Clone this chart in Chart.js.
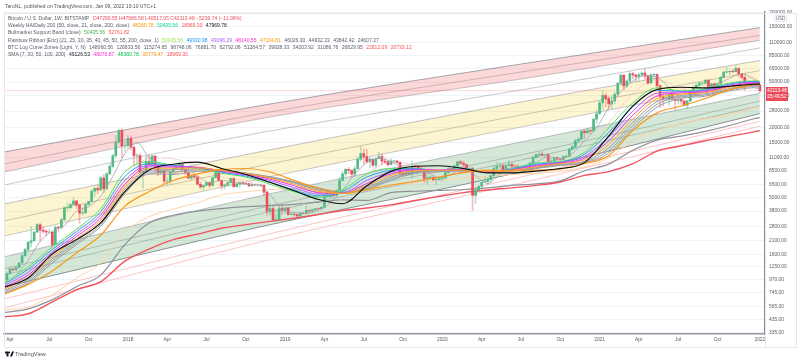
<!DOCTYPE html>
<html>
<head>
<meta charset="utf-8">
<script src="https://cdn.jsdelivr.net/npm/chart.js@4/dist/chart.umd.min.js"></script>
<style>
  html, body { margin: 0; padding: 0; background: #fff; }
  #wrap { position: relative; width: 800px; height: 362px; overflow: hidden; font-family: "Liberation Sans", sans-serif; filter: blur(0.3px); }
  canvas { position: absolute; left: 0; top: 0; }
  .t { position: absolute; white-space: pre; font-size: 5.05px; line-height: 7px; color: #5d606b; }
  .frame { position: absolute; border: 1px solid #e6e8ee; box-sizing: border-box; }
  #tag { position: absolute; left: 766px; top: 87px; width: 22px; height: 14px; background: #ec4b5c; color: #fff; font-size: 4.9px; line-height: 6.2px; text-align: center; padding-top: 1px; box-sizing: border-box; }
  #usd { position: absolute; left: 774px; top: 15px; width: 13px; height: 7px; border: 1px solid #e0e3eb; border-radius: 2px; font-size: 4.6px; line-height: 6px; text-align: center; color: #6a6d78; background: #fff; box-sizing: border-box; }
  #logo { position: absolute; left: 5px; top: 351px; }
</style>
</head>
<body>
<div id="wrap">
  <canvas id="chart" width="800" height="362"></canvas>
  <div class="frame" style="left:4px;top:13px;width:762px;height:335px"></div>
  <div class="frame" style="left:765px;top:13px;width:32px;height:335px"></div>
  <div class="t" style="left:5px;top:3px;color:#50535e">TaroNL, published on TradingView.com, Jan 09, 2022 19:10 UTC+1</div>
  <div id="legend"></div>
  <div id="usd">USD</div>
  <div id="tag">42113.48<br>05:49:52</div>
  <svg id="logo" width="9" height="6" viewBox="0 0 36 20"><path fill="#131722" d="M14 20H6V8H0V0h14zM28 20h-8L28 0h8zM17 7a3.5 3.5 0 1 0 0-7 3.5 3.5 0 0 0 0 7z"/></svg>
  <div class="t" style="left:15px;top:351px;font-size:5.6px;color:#50535e">TradingView</div>
</div>
<script>
// weekly candles, first one is two weeks before the Apr 2017 tick
const opens = [1020,960,1090,1195,1175,1230,1350,1560,1770,2040,
  2100,2500,2900,2600,2540,2500,2500,1950,2750,2730,
  3200,4050,4080,4330,4650,4300,3650,3670,4330,4600,
  5650,5980,5800,7370,5950,8000,9300,11500,15000,19000,
  14000,14000,16200,13600,11500,11500,8200,8500,10300,9600,
  11400,9500,8200,8500,6900,6900,8350,8900,9300,9650,
  8700,8200,7350,7700,7500,6500,6150,6370,6750,6350,
  7400,8200,7000,6300,6400,6700,7280,6200,6500,6700,
  6600,6580,6300,6420,6400,6400,6350,5550,3800,4000,
  3200,3200,4000,3850,4050,3550,3580,3550,3450,3650,
  3620,3850,3810,3900,3990,3980,4100,5050,5060,5250,
  5180,5750,7000,8000,8750,8550,7950,8850,10700,12000,
  11300,10200,10750,9500,10800,11300,10300,10150,9600,10350,
  10350,10050,8100,7850,8300,7960,9250,9200,8800,8500,
  7300,7400,7500,7100,7150,7300,7350,8180,8900,8600,
  9350,10150,9900,9650,8530,8900,5200,5800,6250,6780,
  6860,7100,7700,8900,9300,9380,8700,9450,9650,9320,
  9300,9000,9070,9250,9170,9930,11050,11700,11850,11650,
  11700,10250,10330,11050,10750,10660,11300,11360,13100,13750,
  15500,15950,18700,18200,19000,18800,23800,26500,33000,38200,
  36000,32300,34300,39200,48800,57400,46200,51000,59000,57600,
  55900,57800,59800,56200,49000,57800,58200,46500,37500,35700,
  35800,39000,35600,34600,35300,34200,31500,34200,42000,44600,
  47000,48800,48900,51800,45200,48300,43200,48200,54900,60900,
  61300,61900,61500,65500,58700,54800,49400,49300,46800,50800,47290.55];
const closes = [960,1090,1195,1175,1230,1350,1560,1770,2040,2100,
  2500,2900,2600,2540,2500,2500,1950,2750,2730,3200,
  4050,4080,4330,4650,4300,3650,3670,4330,4600,5650,
  5980,5800,7370,5950,8000,9300,11500,15000,19000,14000,
  14000,16200,13600,11500,11500,8200,8500,10300,9600,11400,
  9500,8200,8500,6900,6900,8350,8900,9300,9650,8700,
  8200,7350,7700,7500,6500,6150,6370,6750,6350,7400,
  8200,7000,6300,6400,6700,7280,6200,6500,6700,6600,
  6580,6300,6420,6400,6400,6350,5550,3800,4000,3200,
  3200,4000,3850,4050,3550,3580,3550,3450,3650,3620,
  3850,3810,3900,3990,3980,4100,5050,5060,5250,5180,
  5750,7000,8000,8750,8550,7950,8850,10700,12000,11300,
  10200,10750,9500,10800,11300,10300,10150,9600,10350,10350,
  10050,8100,7850,8300,7960,9250,9200,8800,8500,7300,
  7400,7500,7100,7150,7300,7350,8180,8900,8600,9350,
  10150,9900,9650,8530,8900,5200,5800,6250,6780,6860,
  7100,7700,8900,9300,9380,8700,9450,9650,9320,9300,
  9000,9070,9250,9170,9930,11050,11700,11850,11650,11700,
  10250,10330,11050,10750,10660,11300,11360,13100,13750,15500,
  15950,18700,18200,19000,18800,23800,26500,33000,38200,36000,
  32300,34300,39200,48800,57400,46200,51000,59000,57600,55900,
  57800,59800,56200,49000,57800,58200,46500,37500,35700,35800,
  39000,35600,34600,35300,34200,31500,34200,42000,44600,47000,
  48800,48900,51800,45200,48300,43200,48200,54900,60900,61300,
  61900,61500,65500,58700,54800,49400,49300,46800,50800,47290,42113.48];
const highs = [1060,1130,1215,1215,1250,1355,1620,1810,2080,2790,
  2540,2980,2970,2780,2620,2650,2500,2850,2830,3300,
  4200,4480,4450,4980,4700,4380,4120,4370,4640,5850,
  6150,6300,7600,7880,8200,9800,11800,17200,19650,19700,
  15500,17200,17100,14000,12000,12000,9000,11300,11700,11700,
  11600,9900,9150,8700,7500,8450,9050,9750,10000,9650,
  8870,8520,7780,7820,7630,6800,6300,6770,6850,7550,
  8480,8300,7150,6560,6850,7350,7410,6580,6830,6800,
  6680,6650,6780,6600,6550,6540,6450,5620,4420,4200,
  3590,4240,4300,4100,4080,3720,3650,3590,3700,3720,
  4190,3930,3950,4000,4060,4200,5340,5470,5350,5620,
  5850,7500,8330,8950,9090,8760,9350,11200,13800,13150,
  13050,11000,10650,11000,12300,12000,10950,10600,10900,10480,
  10350,10180,8480,8660,8450,10350,9550,9450,9100,8400,
  7850,7750,7430,7520,7430,7600,8450,9190,8800,9590,
  10200,10500,10300,9650,9180,9150,6900,6950,6550,7470,
  7450,7740,9460,10050,9950,9840,9600,10430,9990,9580,
  9650,9320,9470,9430,9990,11420,11900,12480,12470,11770,
  12040,10750,11170,11180,10930,11450,11740,13350,14100,15960,
  16480,18790,19480,19900,19400,24300,28400,34700,41950,40000,
  37900,38500,40900,49700,58300,57600,52600,61800,60600,58400,
  60000,61200,64800,57500,58500,59400,58500,46600,40900,39400,
  39400,41300,35600,36700,35100,34600,34700,42600,46400,48100,
  50500,49900,52900,52900,48800,48200,49300,56200,62900,67000,
  63700,64300,69000,66400,59400,59000,50900,50000,51900,52100,47586.58];
const lows = [890,940,1080,1160,1170,1225,1345,1540,1680,1850,
  2100,2480,2080,2450,2340,2490,1850,1950,2500,2650,
  3150,3800,3950,4320,4000,2980,3520,3620,4260,4550,
  5100,5380,5700,5500,5850,7900,9000,11000,14800,11000,
  12500,13200,12800,9300,9900,7900,6000,8300,9300,9350,
  8300,7700,8100,6530,6430,6650,7820,8670,8820,8330,
  7900,7250,7070,7350,6420,5980,5780,6240,6060,6250,
  7400,6890,5880,5880,6300,6670,6120,6140,6100,6400,
  6450,6170,6250,6330,6230,6300,5180,3500,3530,3150,
  3130,3230,3560,3650,3500,3510,3430,3320,3370,3570,
  3600,3680,3730,3800,3900,3970,4090,4960,5010,5060,
  5130,5620,6950,7570,8000,7450,7550,8870,10300,9700,
  9950,9050,9200,9100,10800,9500,9900,9330,9550,9900,
  9900,7700,7700,7800,7830,7350,8900,8700,8400,6800,
  6540,7350,7000,6450,7050,6870,7320,8150,8250,8580,
  9140,9680,9300,8400,8430,3850,4430,5670,5860,6680,
  6460,6760,7610,8650,8100,8650,8630,9310,9060,8950,
  8830,8890,9040,9000,9140,9880,10950,11100,11370,11150,
  9880,9870,10200,10150,10370,10530,11180,11290,12900,13220,
  14850,15800,16200,17600,17650,18950,21900,26500,29000,30400,
  28900,29200,32300,37900,47100,43000,44900,49300,53200,50300,
  50500,55500,53000,47500,48800,53000,43500,30000,31100,34800,
  31000,34900,28800,32700,32100,31000,29300,33900,37400,43700,
  43900,46400,46700,42800,43400,39600,40800,47000,53700,59500,
  58000,60000,61200,55600,53300,42300,47300,45600,46400,45700,40517.05];

// indicator lines are read every 8 weeks
const lineWeeks = [-2,6,14,22,30,38,46,54,62,70,78,86,94,102,110,118,126,134,142,150,158,166,174,182,190,198,206,214,222,230,238,246,248];
const ema21 = [906,1250,1860,2650,4000,8300,10200,9500,9000,8100,7500,6500,5600,5000,5800,8000,8900,8900,8500,8900,8200,8900,9900,10200,12300,20000,33000,44500,42000,43500,49000,51000,50435];
const ema25 = [880,1190,1770,2520,3750,7600,9800,9450,9050,8250,7650,6750,5800,5150,5600,7500,8600,8850,8550,8800,8250,8800,9700,10100,11800,18300,30500,42500,41500,42800,48000,50400,49930];
const ema30 = [850,1120,1680,2400,3520,7000,9500,9300,9100,8400,7800,7000,6050,5350,5450,7000,8300,8750,8600,8700,8300,8700,9500,10000,11300,16700,28000,40000,41000,42000,47000,49600,49096];
const ema35 = [820,1060,1600,2290,3320,6500,9200,9150,9100,8500,7950,7200,6300,5500,5400,6600,8000,8650,8600,8650,8300,8650,9350,9900,10900,15400,25800,37800,40200,41200,46000,48700,48140];
const ema40 = [800,1010,1530,2190,3170,6150,8900,8950,9000,8550,8050,7350,6500,5650,5400,6300,7750,8500,8600,8600,8300,8600,9200,9800,10600,14300,24000,35700,39300,40400,45000,47700,47104];
const ema45 = [780,970,1470,2100,3040,5900,8600,8700,8850,8550,8100,7450,6650,5800,5450,6100,7500,8350,8550,8550,8300,8550,9100,9650,10300,13400,22400,33800,38300,39500,43900,46700,46026];
const ema50 = [760,930,1410,2020,2910,5650,8300,8300,8650,8500,8100,7500,6750,5950,5500,5950,7250,8200,8450,8500,8300,8500,9000,9550,10100,12700,21000,32000,37200,38600,42900,45650,44932];
const ema55 = [740,900,1350,1950,2800,5400,8000,7900,8400,8400,8100,7550,6850,6050,5550,5850,7050,8050,8350,8450,8250,8450,8900,9450,9900,12100,19800,30300,36000,37700,41800,44600,43842];
const ema200 = [500,540,650,840,1060,1950,3000,3500,3800,4000,4150,4250,4350,4550,4750,4700,5500,5650,5750,5850,6050,6350,6550,6950,8500,9700,12800,15700,17000,18700,21000,24000,24607];
const haClose = [830,1000,1620,2150,3000,5600,8650,9700,10100,8900,7900,6750,5700,4800,4400,6300,8400,9300,9400,8900,8150,8150,8450,8900,10000,17000,31000,43000,45000,44500,46000,47800,47969];
const sma30 = [900,1050,1700,2600,3500,6300,11000,10800,9300,7500,7000,6700,5000,3900,4900,7900,10200,9500,8600,8600,8300,8300,9600,10800,12200,22000,40000,52000,44000,40000,47500,55000,48076];
const sma50 = [721,880,1150,1650,2350,4200,5600,7000,8000,8700,8900,8300,7000,6000,5400,5800,6400,6900,7500,8200,8600,8500,8600,8800,9800,11500,19000,27000,31000,36000,43000,47500,48380];
const sma100 = [530,560,710,1000,1350,2500,3400,3950,4500,5250,5600,5850,5900,5800,5850,6000,6400,6700,7000,7400,7600,7900,8100,8400,9200,11000,15500,19000,21800,24000,26000,29800,30779];
const sma200 = [460,490,620,790,930,1400,1780,2150,2400,2700,2900,3100,3300,3550,3850,4050,4300,4700,5100,5500,5800,6050,6350,6800,7750,8350,9800,12600,14000,15500,16900,18500,18969];

// the 7 week average moves faster, so it gets more points
const sma7Weeks = [2,6,10,14,18,22,26,30,34,38,40,42,46,50,54,58,62,66,70,74,78,82,86,90,94,98,102,106,110,114,118,122,126,130,134,138,142,146,150,154,158,162,166,170,174,178,182,186,190,194,198,202,206,210,214,218,222,226,230,234,238,242,246,248];
const sma7 = [1060,1420,2080,2550,2850,3800,4140,5120,7600,12000,13800,15000,11000,9700,8000,8800,7700,6700,7000,6800,6500,6420,5300,3900,3700,3640,3850,4500,5800,7900,10000,10900,10200,9100,8300,8200,7400,7900,9100,7700,6600,8000,9100,9250,10100,11200,10800,12000,15500,20000,30000,41000,51000,57000,55000,45000,37000,37500,44000,47500,54000,59000,53000,49126];

// log curve zones, read at four places along the axis
const zoneWeeks = [-2,84,169,248];
const zoneA = [12365,31595,71600,148060.56];
const zoneB = [9730,26930,61050,126833.56];
const zoneC = [8295,24370,53080,115274.65];
const zoneD = [6395,18430,42620,98748.06];
const zoneE = [4380,12615,33550,76881.70];
const zoneF = [3120,9540,25880,62792.08];
const zoneG = [2310,7360,20370,51284.57];
const zoneH = [1520,5240,15090,39928.33];
const zoneI = [1197,4125,11650,34203.92];
const zoneJ = [1062,3660,10540,31086.76];
const zoneK = [835,2825,8295,26629.95];
const zoneL = [657,2358,7510,22812.09];
const zoneM = [549,2090,6660,20733.12];

const lastPrice = 42113.48;
const priceTicks = [200000,150000,110000,85000,65000,50000,38000,28000,20000,15000,11000,8500,6500,5000,3800,2800,2100,1600,1250,970,745,565,435,335];
const tickWeeks = [0,13,26,39,52,65,78,91,104,117,130,143,156,169,182,195,208,221,234,248];
const tickLabels = ['Apr','Jul','Oct','2018','Apr','Jul','Oct','2019','Apr','Jul','Oct','2020','Apr','Jul','Oct','2021','Apr','Jul','Oct','2022'];

const GREEN = '#53b987';
const RED = '#eb4d5c';
const FONT = '"Liberation Sans", sans-serif';

// legend rows, colour null means the grey label colour
const legendRows = [
  [['Bitcoin / U.S. Dollar, 1W, BITSTAMP', null], ['O47290.55 H47586.58 L40517.05 C42113.48 \u22125236.74 (\u221211.06%)', RED]],
  [['Weekly HA/Daily 200 (50, close, 21, close, 200, close)', null], ['48380.78', '#ff9800'], ['50435.56', '#00d68f'], ['18969.30', '#ff5252'], ['47969.78', '#131722']],
  [['Bullmarket Support Band (close)', null], ['50435.56', '#4caf50'], ['52761.82', '#ff5252']],
  [['Rainbow Ribbon [Eric] (21, 25, 30, 35, 40, 45, 50, 55, 200, close, 1)', null], ['50435.56', '#a5e84c'], ['49930.98', '#2196f3'], ['49096.29', '#b45cff'], ['48140.55', '#ff2bd6'], ['47104.81', '#ff9800'], ['46026.30', null], ['44932.33', null], ['43842.42', null], ['24607.37', null]],
  [['BTC Log Curve Zones (Light, Y, N)', null], ['148060.56', null], ['126833.56', null], ['115274.65', null], ['98748.06', null], ['76881.70', null], ['62792.08', null], ['51284.57', null], ['39928.33', null], ['34203.92', null], ['31086.76', null], ['26629.95', null], ['22812.09', '#ff5252'], ['20733.12', '#ff5252']],
  [['SMA (7, 30, 50, 100, 200)', null], ['49126.53', '#131722'], ['48076.87', '#ff2bd6'], ['48380.78', '#00c853'], ['30779.47', '#ff9800'], ['18969.30', '#ff5252']]
];

document.getElementById('legend').innerHTML = legendRows.map((row, r) => {
  const spans = row.map(p => `<span style="margin-right:3.4px;${p[1] ? 'color:' + p[1] : ''}">${p[0]}</span>`).join('');
  return `<div class="t" style="left:8px;top:${15 + r * 7.2}px">${spans}</div>`;
}).join('');

function sampled(weeks, values) {
  return weeks.map((w, i) => ({ x: w, y: values[i] }));
}
function line(weeks, values, color, width, order, extra) {
  return Object.assign({
    type: 'line',
    data: sampled(weeks, values),
    borderColor: color,
    borderWidth: width,
    pointRadius: 0,
    cubicInterpolationMode: 'monotone',
    fill: false,
    order: order
  }, extra || {});
}

const upDown = closes.map((c, i) => c >= opens[i] ? GREEN : RED);
const wickColors = closes.map((c, i) => c >= opens[i] ? 'rgba(83,185,135,0.4)' : 'rgba(235,77,92,0.4)');

const zoneGrey = 'rgba(120,123,134,0.65)';
const redFill = 'rgba(245,128,128,0.3)';
const yellowFill = 'rgba(250,222,105,0.3)';
const greenFill = 'rgba(115,178,122,0.3)';

const datasets = [
  // zones first so the relative fill targets stay simple
  line(zoneWeeks, zoneA, zoneGrey, 1, 40, { fill: { target: '+2', above: redFill, below: redFill } }),
  line(zoneWeeks, zoneB, zoneGrey, 0.7, 40),
  line(zoneWeeks, zoneC, zoneGrey, 0.7, 40),
  line(zoneWeeks, zoneD, 'rgba(120,123,134,0.5)', 0.8, 40),
  line(zoneWeeks, zoneE, zoneGrey, 0.7, 40, { fill: { target: '+2', above: yellowFill, below: yellowFill } }),
  line(zoneWeeks, zoneF, zoneGrey, 0.8, 40),
  line(zoneWeeks, zoneG, zoneGrey, 0.7, 40),
  line(zoneWeeks, zoneH, zoneGrey, 0.7, 40, { fill: { target: '+3', above: greenFill, below: greenFill } }),
  line(zoneWeeks, zoneI, zoneGrey, 0.7, 40),
  line(zoneWeeks, zoneJ, zoneGrey, 0.7, 40),
  line(zoneWeeks, zoneK, 'rgba(80,85,95,0.75)', 0.9, 40),
  line(zoneWeeks, zoneL, '#ffc4c4', 1, 40),
  line(zoneWeeks, zoneM, '#ffc4c4', 1, 40),
  line([-2, 250], [lastPrice, lastPrice], 'rgba(235,77,92,0.3)', 0.7, 39, { cubicInterpolationMode: 'default' }),
  line(lineWeeks, sma100, '#ffd2a6', 1, 30),
  line(lineWeeks, ema200, '#8f9198', 1.2, 29),
  line(lineWeeks, sma200, '#f2535e', 1.4, 28),
  line(lineWeeks, sma30, '#f7c9c4', 0.8, 27),
  line(sma7Weeks, sma7, '#a3a5ab', 0.8, 8),
  {
    type: 'bar',
    data: highs.map((h, i) => ({ x: i - 2, y: [lows[i], h] })),
    backgroundColor: wickColors,
    barThickness: 1,
    grouped: false,
    order: 12
  },
  {
    type: 'bar',
    data: opens.map((o, i) => ({ x: i - 2, y: [o, closes[i]] })),
    backgroundColor: upDown,
    barThickness: 2,
    grouped: false,
    order: 11
  },
  line(lineWeeks, ema55, '#9a9ca2', 1, 7),
  line(lineWeeks, ema50, '#9a9ca2', 1, 7),
  line(lineWeeks, ema45, '#9a9ca2', 1, 7),
  line(lineWeeks, ema40, '#ffa726', 1, 6),
  line(lineWeeks, ema35, '#ea2fe0', 1, 6),
  line(lineWeeks, ema30, '#b85cff', 1, 6),
  line(lineWeeks, ema25, '#2f9df5', 1, 6),
  line(lineWeeks, ema21, '#55e060', 1, 6),
  line(lineWeeks, sma50, '#f79a1e', 1.2, 3),
  line(lineWeeks, haClose, '#0d0d0d', 1.1, 2)
];

new Chart(document.getElementById('chart').getContext('2d'), {
  type: 'bar',
  data: { datasets: datasets },
  options: {
    responsive: false,
    animation: false,
    layout: { padding: { left: 4, top: 12 } },
    plugins: { legend: { display: false }, tooltip: { enabled: false } },
    scales: {
      x: {
        type: 'linear',
        offset: false,
        min: -1.98,
        max: 249.7,
        grid: { display: false, drawTicks: false },
        border: { color: '#9598a1', width: 1.5 },
        afterFit: s => { s.height = 28; },
        afterBuildTicks: s => { s.ticks = tickWeeks.map(w => ({ value: w })); },
        ticks: {
          autoSkip: false,
          maxRotation: 0,
          padding: 3,
          color: '#5d606b',
          font: { size: 4.9, family: FONT },
          callback: v => tickLabels[tickWeeks.indexOf(v)]
        }
      },
      y: {
        type: 'logarithmic',
        position: 'right',
        min: 327,
        max: 202300,
        grid: { color: '#f0f3fa', lineWidth: 1, drawTicks: false },
        border: { color: '#8a8d96', width: 1.5 },
        afterFit: s => { s.width = 35; },
        afterBuildTicks: s => { s.ticks = priceTicks.map(v => ({ value: v })); },
        ticks: {
          autoSkip: false,
          padding: 4,
          color: '#5d606b',
          font: { size: 4.9, family: FONT },
          callback: v => Number(v).toFixed(2)
        }
      }
    }
  }
});
</script>
</body>
</html>
